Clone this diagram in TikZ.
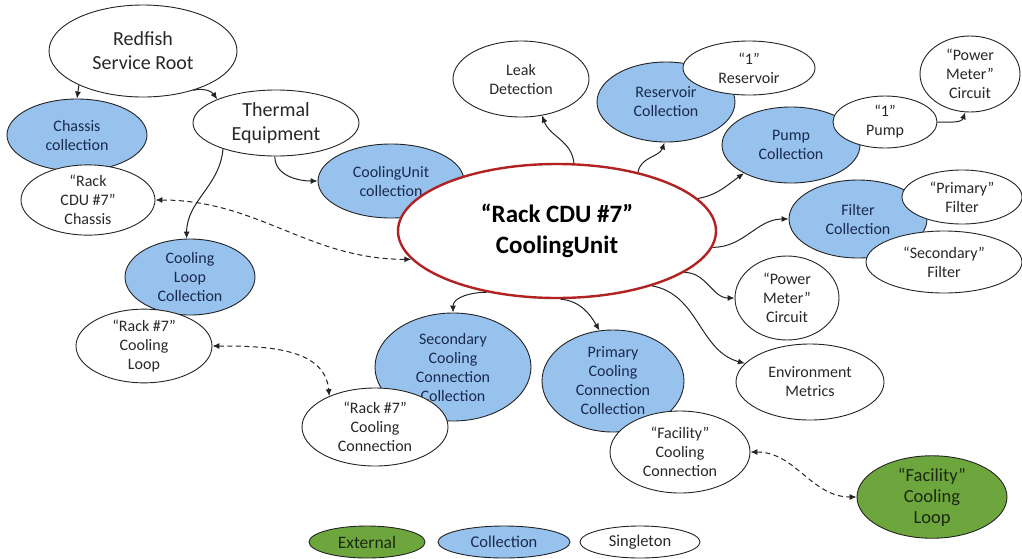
\documentclass[tikz,border=0pt]{standalone}
\usepackage{fontspec}
\setmainfont{Carlito}
\usetikzlibrary{shapes.geometric,arrows.meta}
\definecolor{collblue}{RGB}{152,194,238}
\definecolor{colltext}{RGB}{26,42,78}
\definecolor{singtext}{RGB}{40,40,40}
\definecolor{extgreen}{RGB}{110,166,62}
\definecolor{exttext}{RGB}{28,40,18}
\definecolor{cdured}{RGB}{178,34,34}
\definecolor{edgecol}{RGB}{35,35,35}
\begin{document}
\begin{tikzpicture}[x=1pt,y=1pt,
  bub/.style={ellipse,draw=edgecol,line width=0.9pt,inner sep=0pt,align=center,font=\fontsize{16}{19}\selectfont},
  coll/.style={bub,fill=collblue,text=colltext},
  sing/.style={bub,fill=white,text=singtext},
  ext/.style={bub,fill=extgreen,text=exttext},
  sz/.style 2 args={minimum width=#1pt,minimum height=#2pt},
  bigf/.style={font=\fontsize{20}{24}\selectfont},
  link/.style={draw=edgecol,line width=1pt,-{Latex[length=7pt,width=6pt]}},
  refl/.style={draw=edgecol,line width=1pt,dash pattern=on 5pt off 3.5pt,{Latex[length=7pt,width=6pt]}-{Latex[length=7pt,width=6pt]}},
]
\useasboundingbox (0,0) rectangle (1022,-558);

% top-left
\node[sing,sz={188}{92},bigf] (redfish) at (143,-51) {Redfish\\Service Root};
\node[sing,sz={166}{66},bigf] (thermal) at (276,-123) {Thermal\\Equipment};
\node[coll,sz={140}{72}] (chassiscoll) at (77,-135) {Chassis\\collection};
\node[sing,sz={134}{68}] (chassis) at (88,-200) {“Rack\\CDU \#7”\\Chassis};
\node[coll,sz={146}{74}] (cucoll) at (391,-181) {CoolingUnit\\collection};

% central
\node[bub,fill=white,draw=cdured,line width=2.4pt,sz={318}{134},text=black,
      font=\bfseries\fontsize{25}{31}\selectfont] (cdu) at (557,-231) {“Rack CDU \#7”\\CoolingUnit};

% top right
\node[sing,sz={136}{76}] (leak) at (521,-79) {Leak\\Detection};
\node[coll,sz={138}{80}] (rescoll) at (666,-102) {Reservoir\\Collection};
\node[sing,sz={132}{54}] (res1) at (749,-68) {“1”\\Reservoir};
\node[coll,sz={138}{76}] (pumpcoll) at (791,-145) {Pump\\Collection};
\node[sing,sz={104}{52}] (pump1) at (885,-122) {“1”\\Pump};
\node[sing,sz={100}{76}] (pmtop) at (970,-74) {“Power\\Meter”\\Circuit};
\node[coll,sz={138}{78}] (filtcoll) at (858,-219) {Filter\\Collection};
\node[sing,sz={120}{54}] (primf) at (962,-197) {“Primary”\\Filter};
\node[sing,sz={156}{62}] (secf) at (944,-262) {“Secondary”\\Filter};
\node[sing,sz={104}{84}] (pmmid) at (787,-298) {“Power\\Meter”\\Circuit};
\node[sing,sz={148}{76}] (env) at (810,-382) {Environment\\Metrics};

% bottom
\node[coll,sz={142}{102}] (pccoll) at (613,-381) {Primary\\Cooling\\Connection\\Collection};
\node[sing,sz={140}{82}] (fcc) at (680,-452) {“Facility”\\Cooling\\Connection};
\node[ext,sz={150}{70},font=\fontsize{18.5}{21}\selectfont] (fcl) at (932,-497) {“Facility”\\Cooling\\Loop};
\node[coll,sz={156}{108}] (sccoll) at (453,-367) {Secondary\\Cooling\\Connection\\Collection};
\node[sing,sz={146}{78}] (rcc) at (375,-427) {“Rack \#7”\\Cooling\\Connection};
\node[coll,sz={130}{76}] (clcoll) at (190,-277) {Cooling\\Loop\\Collection};
\node[sing,sz={136}{72}] (rcl) at (144,-346) {“Rack \#7”\\Cooling\\Loop};

% legend
\node[ext,sz={116}{32},font=\fontsize{17.5}{20}\selectfont] (lgext) at (367,-542) {External};
\node[coll,sz={132}{32},font=\fontsize{16.5}{19}\selectfont] (lgcoll) at (504,-542) {Collection};
\node[sing,sz={120}{32},font=\fontsize{16.5}{19}\selectfont] (lgsing) at (640,-542) {Singleton};

% connectors
\draw[link] (redfish.208) -- (chassiscoll.north);
\draw[link] (redfish.-38) to[out=15,in=125] (thermal.158);
\draw[link] (thermal.-92) to[out=-90,in=180] (cucoll.west);
\draw[link] (thermal.206) to[out=-95,in=90] (clcoll.95);
\draw[refl] (chassis.east) to[out=0,in=180] (cdu.191);

\draw[link] (cdu.76) to[out=95,in=-70] (leak.-60);
\draw[link] (cdu.36) to[out=80,in=-110] (rescoll.-92);
\draw[link] (cdu.13) to[out=10,in=215] (pumpcoll.211);
\draw[link] (cdu.-6) to[out=0,in=180] (filtcoll.west);
\draw[link] (cdu.-18) to[out=0,in=180] (pmmid.west);
\draw[link] (cdu.-30) to[out=-10,in=165] (env.164);
\draw[link] (cdu.-87) to[out=-5,in=120] (pccoll.105);
\draw[link] (cdu.-139) to[out=180,in=90] (sccoll.north);
\draw[link] (pump1.east) to[out=0,in=-110] (pmtop.-97);

\draw[refl] (rcl.east) to[out=0,in=95] (rcc.146);
\draw[refl] (fcc.east) to[out=0,in=180] (fcl.west);
\end{tikzpicture}
\end{document}
